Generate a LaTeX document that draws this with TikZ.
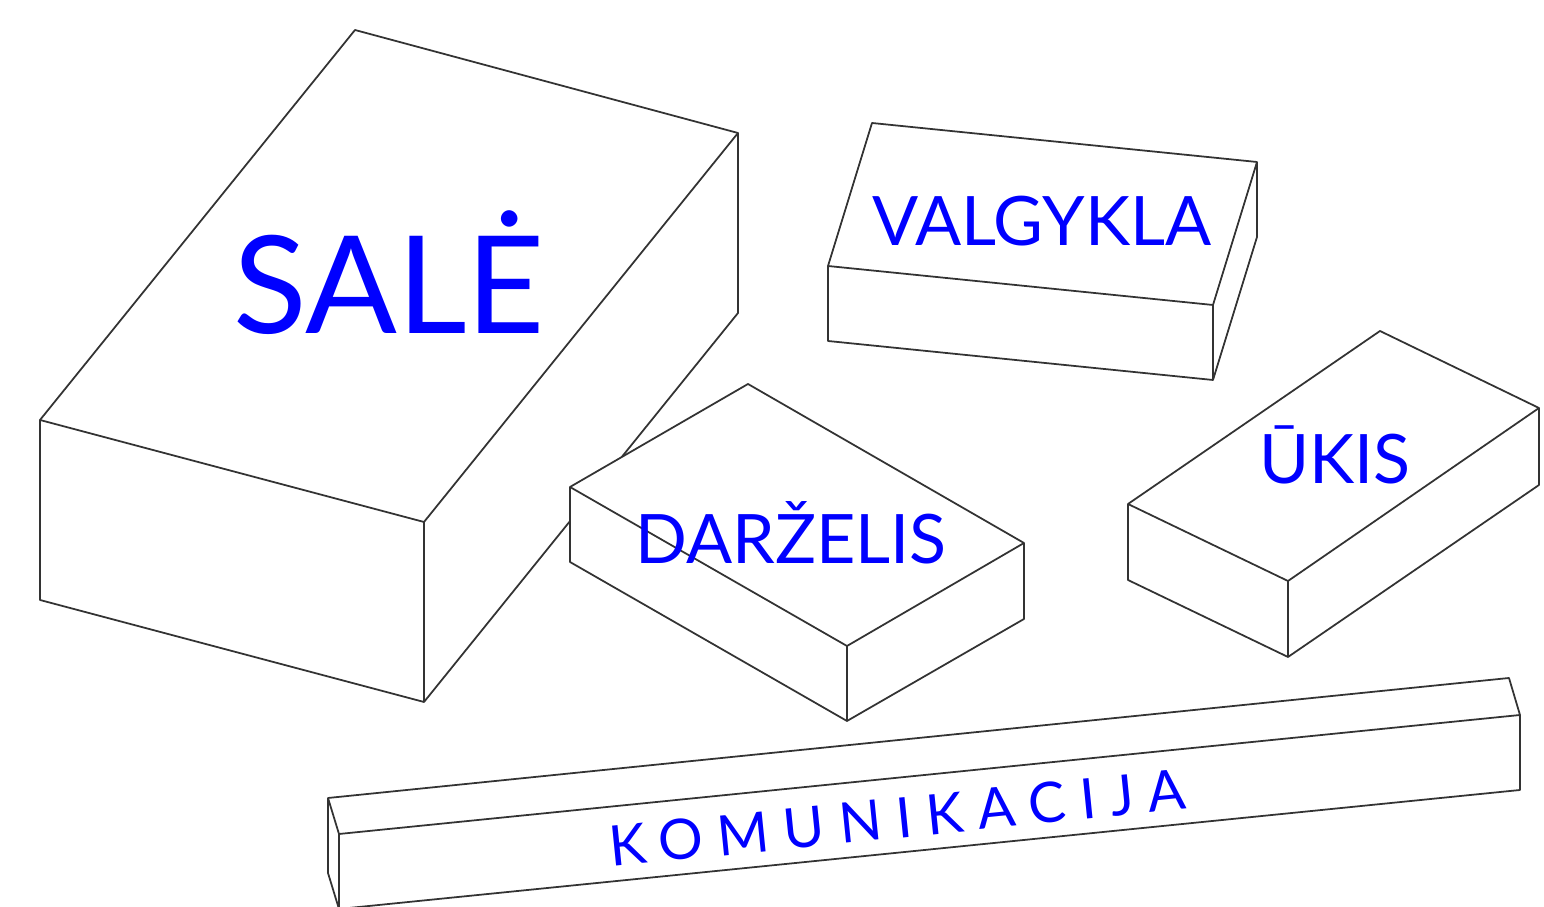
\documentclass[tikz,border=0pt]{standalone}
\usepackage{fontspec}
\setmainfont{Lato}
\newfontfamily\spacedfont[LetterSpace=26]{Lato}
\usetikzlibrary{positioning}

\tikzset{
    blok/.style={draw=black!80, fill=white, line width=0.5pt, line join=round},
    rand/.style={draw=black!80, line width=0.5pt, line join=round},
    naam/.style={text=blue, inner sep=0pt, anchor=base}
}

\begin{document}
\begin{tikzpicture}[x=0.01cm, y=-0.01cm]
        \useasboundingbox (0,0) rectangle (1544,907);

        % Sale
        \path[blok] (355,30) -- (738,133) -- (738,313) -- (424,702) -- (40,600) -- (40,420) -- cycle;
        \draw[rand] (40,420) -- (424,522) -- (738,133);
        \draw[rand] (424,522) -- (424,702);
        \node[naam, font=\fontsize{38.6}{39}\selectfont] (sale) at (389,334) {SALĖ};

        % Valgykla
        \path[blok] (872,123) -- (1257,162) -- (1257,237) -- (1213,380) -- (828,341) -- (828,266) -- cycle;
        \draw[rand] (828,266) -- (1213,305) -- (1257,162);
        \draw[rand] (1213,305) -- (1213,380);
        \node[naam, font=\fontsize{19.4}{20}\selectfont] (valgykla) at (1042,246) {VALGYKLA};

        % Ukis
        \path[blok] (1380,331) -- (1539,408) -- (1539,485) -- (1288,657) -- (1128,580) -- (1128,504) -- cycle;
        \draw[rand] (1128,504) -- (1288,581) -- (1539,408);
        \draw[rand] (1288,581) -- (1288,657);
        \node[naam, font=\fontsize{19.4}{20}\selectfont] (ukis) at (1335,484) {ŪKIS};

        % Darzelis (staat voor de sale)
        \path[blok] (748,384) -- (1024,543) -- (1024,619) -- (847,721) -- (570,562) -- (570,487) -- cycle;
        \draw[rand] (570,487) -- (847,646) -- (1024,543);
        \draw[rand] (847,646) -- (847,721);
        \node[naam, font=\fontsize{19.4}{20}\selectfont] (darzelis) at (791,564) {DARŽELIS};

        % Komunikacija
        \path[blok] (328,798) -- (1509,678) -- (1520,715) -- (1520,790) -- (339,909) -- (328,873) -- cycle;
        \draw[rand] (328,798) -- (339,834) -- (1520,715);
        \draw[rand] (339,834) -- (339,909);
        \node[naam, anchor=base west, rotate=5.75, font=\spacedfont\fontsize{15.9}{16}\selectfont] (komunikacija) at (611,867) {KOMUNIKACIJA};
    \end{tikzpicture}
\end{document}
